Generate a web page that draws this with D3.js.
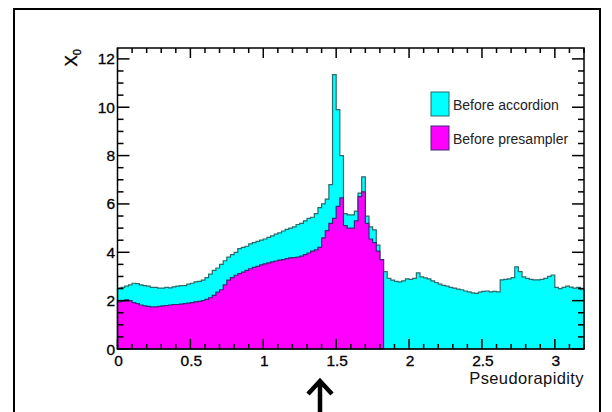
<!DOCTYPE html>
<html>
<head>
<meta charset="utf-8">
<script src="https://cdn.jsdelivr.net/npm/d3@7"></script>
<style>
  body { margin: 0; background: #fff; }
  svg text { font-family: Arial, "Liberation Sans", Helvetica, sans-serif; }
</style>
</head>
<body>
<div class="chart"></div>
<script>
// Material (X0) in front of the calorimeter vs pseudorapidity

const binWidth = 0.025;

// Before accordion, bins of 0.025 from 0 to 3.2
const beforeAccordion = [
    2.52, 2.55, 2.6, 2.65, 2.72, 2.7, 2.65, 2.62,
    2.6, 2.55, 2.55, 2.52, 2.52, 2.55, 2.53, 2.57,
    2.6, 2.62, 2.62, 2.68, 2.72, 2.78, 2.8, 2.85,
    2.95, 3.1, 3.25, 3.35, 3.5, 3.65, 3.8, 3.9,
    4.0, 4.15, 4.2, 4.25, 4.35, 4.4, 4.45, 4.5,
    4.55, 4.62, 4.68, 4.75, 4.8, 4.88, 4.95, 5.0,
    5.05, 5.15, 5.2, 5.3, 5.4, 5.45, 5.6, 5.85,
    6.0, 6.2, 6.8, 11.35, 9.9, 8.0, 5.6, 5.55,
    5.55, 5.7, 6.45, 7.12, 5.5, 5.05, 4.93, 4.3,
    3.7, 3.2, 2.92, 2.85, 2.8, 2.78, 2.82, 2.9,
    2.88, 2.92, 3.15, 2.98, 2.94, 2.9, 2.82, 2.75,
    2.68, 2.63, 2.6, 2.55, 2.52, 2.48, 2.45, 2.4,
    2.36, 2.32, 2.3, 2.35, 2.38, 2.4, 2.36, 2.38,
    2.36, 2.86, 2.88, 2.9, 2.95, 3.4, 3.2, 2.98,
    2.92, 2.88, 2.86, 2.86, 2.88, 2.92, 3.0, 3.06,
    2.55, 2.5, 2.55, 2.6, 2.56, 2.52, 2.55, 2.45
];

// Before presampler, same bins, stops at 1.825
const beforePresampler = [
    1.95, 1.98, 2.03, 2.0, 1.92, 1.88, 1.82, 1.78,
    1.76, 1.74, 1.74, 1.76, 1.78, 1.8, 1.82, 1.84,
    1.84, 1.86, 1.88, 1.9, 1.92, 1.95, 1.97, 2.0,
    2.05, 2.12, 2.22, 2.35, 2.45, 2.65, 2.85, 2.95,
    3.05, 3.12, 3.18, 3.25, 3.32, 3.38, 3.42, 3.48,
    3.52, 3.56, 3.6, 3.64, 3.68, 3.7, 3.74, 3.77,
    3.78, 3.8, 3.84, 3.9, 3.97, 4.05, 4.1, 4.2,
    4.6, 4.9, 5.2, 5.4, 5.9, 6.25, 5.1, 5.0,
    5.0, 5.3, 6.3, 6.5, 5.2, 4.55, 4.4, 4.05,
    3.7
];

const xTicks = [0, 0.5, 1, 1.5, 2, 2.5, 3];
const yTicks = [0, 2, 4, 6, 8, 10, 12];

const legendItems = [
    { label: 'Before accordion', fill: '#00ffff', stroke: '#2b6b6b' },
    { label: 'Before presampler', fill: '#ff00ff', stroke: '#3a2a78' }
];

const width = 612;
const height = 412;
const plot = { left: 117.5, right: 584, top: 48, bottom: 349 };

const svg = d3.select('.chart')
    .append('svg')
    .attr('width', width)
    .attr('height', height);

// Outer frame
svg.append('rect')
    .attr('x', 14)
    .attr('y', 9)
    .attr('width', 586)
    .attr('height', 420)
    .attr('fill', 'none')
    .attr('stroke', '#000')
    .attr('stroke-width', 2);

const xScale = d3.scaleLinear().domain([0, 3.2]).range([plot.left, plot.right]);
const yScale = d3.scaleLinear().domain([0, 12.45]).range([plot.bottom, plot.top]);

// step histogram: one point per bin edge, last value repeated at the end edge
function histPoints(values) {
    const pts = values.map((v, i) => ({ x: i * binWidth, v: v }));
    pts.push({ x: values.length * binWidth, v: values[values.length - 1] });
    return pts;
}

const area = d3.area()
    .curve(d3.curveStepAfter)
    .x(d => xScale(d.x))
    .y0(yScale(0))
    .y1(d => yScale(d.v));

svg.append('path')
    .datum(histPoints(beforeAccordion))
    .attr('d', area)
    .attr('fill', legendItems[0].fill)
    .attr('stroke', legendItems[0].stroke)
    .attr('stroke-width', 1.2);

svg.append('path')
    .datum(histPoints(beforePresampler))
    .attr('d', area)
    .attr('fill', legendItems[1].fill)
    .attr('stroke', legendItems[1].stroke)
    .attr('stroke-width', 1.2);

// Axes (ROOT style: ticks on all four sides, pointing in)
const axes = svg.append('g').attr('stroke', '#000').attr('stroke-width', 1.5);

axes.append('rect')
    .attr('x', plot.left)
    .attr('y', plot.top)
    .attr('width', plot.right - plot.left)
    .attr('height', plot.bottom - plot.top)
    .attr('fill', 'none');

const xMinor = d3.range(0, 32.5).map(i => i / 10);
const yMinor = d3.range(0, 25).map(i => i / 2);

xMinor.forEach(t => {
    const major = Math.abs(t * 2 - Math.round(t * 2)) < 1e-6;
    const len = major ? 10 : 5;
    axes.append('line')
        .attr('x1', xScale(t)).attr('x2', xScale(t))
        .attr('y1', plot.bottom).attr('y2', plot.bottom - len);
    axes.append('line')
        .attr('x1', xScale(t)).attr('x2', xScale(t))
        .attr('y1', plot.top).attr('y2', plot.top + len);
});

yMinor.forEach(t => {
    const major = t % 2 === 0;
    const len = major ? 12 : 6;
    axes.append('line')
        .attr('x1', plot.left).attr('x2', plot.left + len)
        .attr('y1', yScale(t)).attr('y2', yScale(t));
    axes.append('line')
        .attr('x1', plot.right).attr('x2', plot.right - len)
        .attr('y1', yScale(t)).attr('y2', yScale(t));
});

// Tick labels
svg.selectAll('.xlabel')
    .data(xTicks)
    .enter()
    .append('text')
    .attr('class', 'xlabel')
    .attr('x', d => xScale(d) + 1)
    .attr('y', 366)
    .attr('text-anchor', 'middle')
    .attr('font-size', '15.5px')
    .attr('stroke', '#000')
    .attr('stroke-width', 0.3)
    .text(d => d);

svg.selectAll('.ylabel')
    .data(yTicks)
    .enter()
    .append('text')
    .attr('class', 'ylabel')
    .attr('x', 115)
    .attr('y', d => yScale(d) + 5.5)
    .attr('text-anchor', 'end')
    .attr('font-size', '15.5px')
    .attr('stroke', '#000')
    .attr('stroke-width', 0.3)
    .text(d => d);

// Axis titles
svg.append('text')
    .attr('x', 584)
    .attr('y', 384)
    .attr('text-anchor', 'end')
    .attr('font-size', '16.5px')
    .attr('letter-spacing', '0.4px')
    .attr('fill', '#111')
    .text('Pseudorapidity');

const yTitle = svg.append('text')
    .attr('transform', 'translate(77,49) rotate(-90)')
    .attr('text-anchor', 'end')
    .attr('font-size', '17px')
    .attr('stroke', '#000')
    .attr('stroke-width', 0.3);
yTitle.append('tspan').text('X');
yTitle.append('tspan').attr('dy', 4).attr('font-size', '11px').text('0');

// Legend
const legend = svg.append('g').attr('transform', 'translate(431, 92)');

legendItems.forEach((d, i) => {
    const row = legend.append('g').attr('transform', `translate(0, ${i * 34})`);
    row.append('rect')
        .attr('width', 18)
        .attr('height', 24)
        .attr('fill', d.fill)
        .attr('stroke', d.stroke)
        .attr('stroke-width', 1);
    row.append('text')
        .attr('x', 22)
        .attr('y', 17.5)
        .attr('font-size', '14px')
        .attr('fill', '#222')
        .text(d.label);
});

// Arrow below the axis
svg.append('path')
    .attr('d', 'M320,412 L320,382 M308,394 L320,381 L332,394')
    .attr('fill', 'none')
    .attr('stroke', '#000')
    .attr('stroke-width', 4.5);
</script>
</body>
</html>
